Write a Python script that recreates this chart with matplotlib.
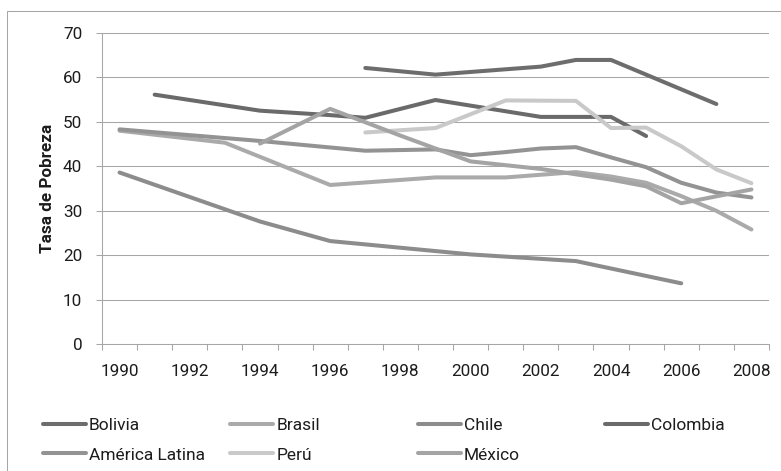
import matplotlib
matplotlib.use("Agg")
import matplotlib.pyplot as plt
from matplotlib.patches import Rectangle

plt.rcParams['font.family'] = ['Roboto', 'DejaVu Sans']

# datos (tasa de pobreza, %)
bolivia_x = [1997, 1999, 2002, 2003, 2004, 2007]
bolivia_y = [62.1, 60.6, 62.4, 63.9, 63.9, 54.0]

brasil_x = [1990, 1993, 1996, 1999, 2001, 2003, 2004, 2005, 2006, 2007, 2008]
brasil_y = [48.0, 45.3, 35.8, 37.5, 37.5, 38.7, 37.7, 36.3, 33.3, 30.0, 25.8]

chile_x = [1990, 1994, 1996, 1998, 2000, 2003, 2006]
chile_y = [38.6, 27.6, 23.2, 21.7, 20.2, 18.7, 13.7]

colombia_x = [1991, 1994, 1996, 1997, 1999, 2002, 2003, 2004, 2005]
colombia_y = [56.1, 52.5, 51.5, 50.9, 54.9, 51.1, 51.1, 51.1, 46.8]

al_x = [1990, 1994, 1997, 1999, 2000, 2001, 2002, 2003, 2004, 2005, 2006, 2007, 2008]
al_y = [48.3, 45.7, 43.5, 43.8, 42.5, 43.2, 44.0, 44.3, 42.0, 39.8, 36.3, 34.1, 33.0]

peru_x = [1997, 1999, 2001, 2003, 2004, 2005, 2006, 2007, 2008]
peru_y = [47.6, 48.6, 54.8, 54.7, 48.6, 48.7, 44.5, 39.3, 36.2]

mexico_x = [1994, 1996, 1998, 2000, 2002, 2004, 2005, 2006, 2008]
mexico_y = [45.1, 52.9, 46.9, 41.1, 39.4, 37.0, 35.5, 31.7, 34.8]

series = [
    ('Bolivia', bolivia_x, bolivia_y, '#6d6d6d'),
    ('Brasil', brasil_x, brasil_y, '#aaaaaa'),
    ('Chile', chile_x, chile_y, '#8c8c8c'),
    ('Colombia', colombia_x, colombia_y, '#6a6a6a'),
    ('América Latina', al_x, al_y, '#939393'),
    ('Perú', peru_x, peru_y, '#c9c9c9'),
    ('México', mexico_x, mexico_y, '#a4a4a4'),
]

W, H = 781, 471
fig = plt.figure(figsize=(W / 100, H / 100), dpi=100)
ax = fig.add_axes([102 / W, 1 - 344.3 / H, 667 / W, (344.3 - 32.8) / H])

gray = '#a6a6a6'
txt = '#1c1c1c'
lines = {}
for name, xs, ys, c in series:
    ln, = ax.plot(xs, ys, color=c, lw=2.9, solid_capstyle='round',
                  solid_joinstyle='round', label=name)
    lines[name] = ln

ax.set_xlim(1989.5, 2008.5)
ax.set_ylim(0, 70)
ax.set_yticks(range(0, 71, 10))
ax.set_xticks(range(1990, 2009, 2))
ax.set_xticks([y + 0.5 for y in range(1989, 2009)], minor=True)

ax.grid(axis='y', color=gray, lw=0.75)
ax.set_axisbelow(True)
for s in ['top', 'right']:
    ax.spines[s].set_visible(False)
for s in ['left', 'bottom']:
    ax.spines[s].set_color(gray)
    ax.spines[s].set_linewidth(0.75)

ax.tick_params(axis='y', length=4.3, width=0.75, color=gray, pad=10,
               labelsize=12.3, labelcolor=txt)
ax.tick_params(axis='x', which='major', length=0, pad=14.4,
               labelsize=12.3, labelcolor=txt)
ax.tick_params(axis='x', which='minor', length=4.3, width=0.75, color=gray)

ax.set_ylabel('Tasa de Pobreza', fontsize=12.3, fontweight='bold', color=txt)
ax.yaxis.label.set_va('center')
ax.yaxis.set_label_coords((47 - 102) / 667, 0.5)

# leyenda en 4 columnas
cols = [['Bolivia', 'América Latina'], ['Brasil', 'Perú'], ['Chile', 'México'], ['Colombia']]
col_x = [42.7, 230, 417.5, 605]
for names, x0 in zip(cols, col_x):
    fig.legend([lines[n] for n in names], names, loc='upper left',
               bbox_to_anchor=(x0 / W, 1 - 417.5 / H), frameon=False,
               fontsize=12.5, handlelength=2.5, handletextpad=0.16,
               borderpad=0, borderaxespad=0, labelspacing=0.85,
               labelcolor=txt)

# marco exterior
fig.patches.append(Rectangle((7.3 / W, -0.1), 1.2, 1 - 10.7 / H + 0.1,
                             transform=fig.transFigure, fill=False,
                             edgecolor=gray, lw=0.75))

fig.savefig('out.png', dpi=100)
